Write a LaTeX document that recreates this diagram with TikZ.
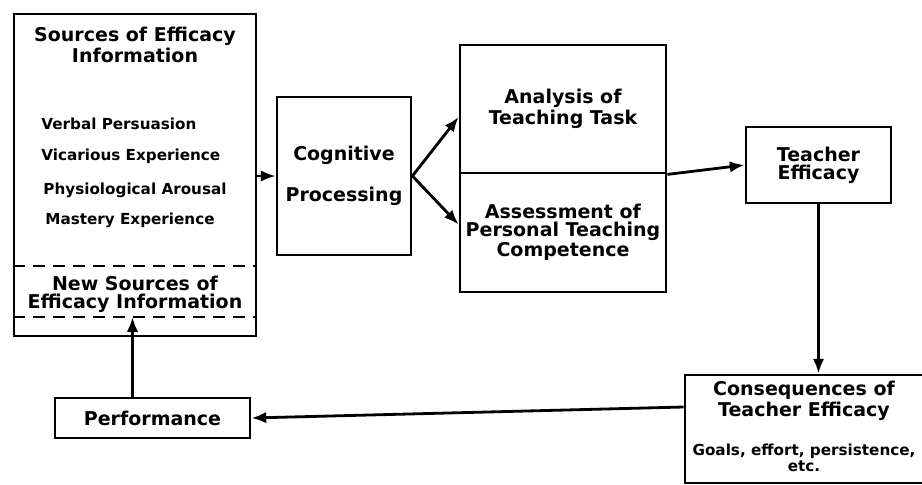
\documentclass[tikz,border=0pt]{standalone}
\usepackage{fontspec}
\setmainfont{DejaVu Sans}
\usetikzlibrary{positioning,arrows.meta}

\begin{document}
\begin{tikzpicture}[x=0.5pt,y=-0.5pt,line width=1.4pt,
  >={Latex[length=2.6mm,width=2mm]},
  head/.style={font=\fontsize{9.5}{9}\selectfont\bfseries,align=center},
  item/.style={font=\fontsize{7.6}{8}\selectfont\bfseries,anchor=west,inner sep=0pt},
  box/.style={draw,head,inner sep=2pt},
  dashline/.style={line width=1.2pt,dash pattern=on 6pt off 4pt}]
 \useasboundingbox (0,0) rectangle (922,484);
 \clip (0,0) rectangle (922,484);
 % left column
 \node[box,minimum width=121pt,minimum height=161pt] (src) at (135,175) {};
 \node[head] (srctitle) at (135,45) {Sources of Efficacy\\Information};
 \node[item] (verbal) at (40,124) {Verbal Persuasion};
 \node[item] (vicar) at (40,156) {Vicarious Experience};
 \node[item] (physio) at (42,190) {Physiological Arousal};
 \node[item] (mastery) at (44,220) {Mastery Experience};
 \node[head] (newsrc) at (135,294) {New Sources of\\Efficacy Information};
 \coordinate (dashA) at (src.west |- 0,266);
 \coordinate (dashB) at (src.west |- 0,317);
 \draw[dashline] (dashA) -- (dashA -| src.east);
 \draw[dashline] (dashB) -- (dashB -| src.east);
 % middle
 \node[box,minimum width=67pt,minimum height=79pt] (cog) at (344,176) {Cognitive\\[10pt]Processing};
 \node[box,minimum width=103pt,minimum height=64pt] (ana) at (563,109) {Analysis of\\Teaching Task};
 \node[box,minimum width=103pt,minimum height=59.5pt,below=-1.4pt of ana] (ass) {Assessment of\\Personal Teaching\\Competence};
 \node[box,minimum width=72.5pt,minimum height=38pt] (te) at (818.5,165) {Teacher\\Efficacy};
 % bottom row
 \node[box,minimum width=140pt,minimum height=54pt] (cons) at (825,429) {};
 \node[head] (constitle) at (804,401) {Consequences of\\Teacher Efficacy};
 \node[head,font=\fontsize{7.6}{8}\selectfont\bfseries] (consnote) at (804,458) {Goals, effort, persistence,\\etc.};
 \node[box,minimum width=97.5pt,minimum height=20pt] (perf) at (152.5,418) {Performance};
 % arrows
 \draw[->] (cog.west -| src.east) -- (cog.west);
 \draw[->] (cog.east) -- ([yshift=-4pt]ana.west);
 \draw[->] (cog.east) -- ([yshift=4pt]ass.west);
 \draw[->] (ana.south east) -- (te.west);
 \draw[->] (te.south) -- (te.south |- cons.north);
 \draw[->] (cons.west |- 0,407) -- (perf.east);
 \draw[->] ([xshift=-10pt]perf.north) -- ([xshift=-10pt]perf.north |- dashB);
\end{tikzpicture}
\end{document}
